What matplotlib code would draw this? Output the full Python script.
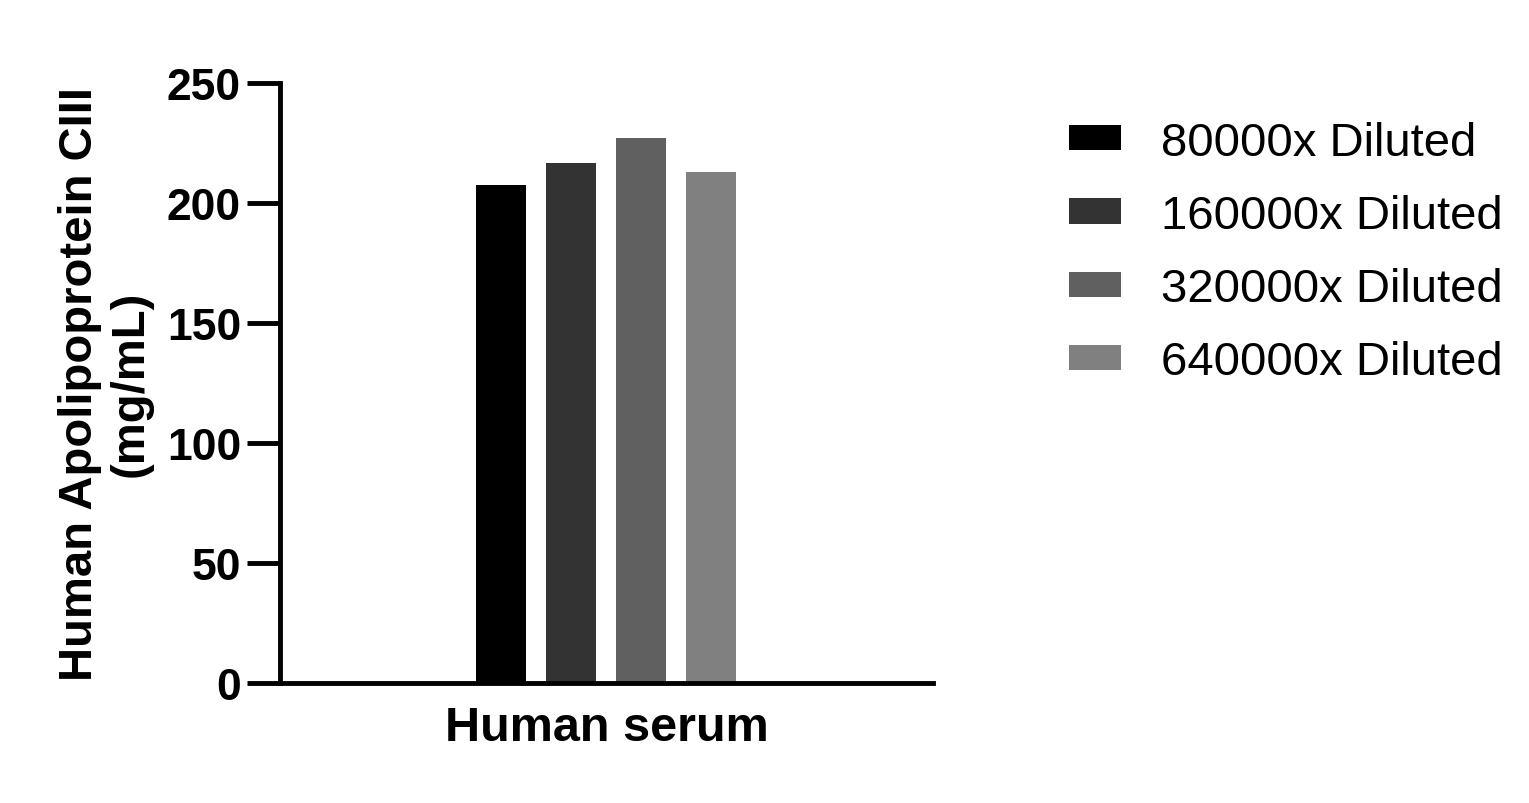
import matplotlib
matplotlib.use("Agg")
import matplotlib.pyplot as plt

plt.rcParams['font.family'] = ['Liberation Sans', 'DejaVu Sans']

series = ["80000x Diluted", "160000x Diluted", "320000x Diluted", "640000x Diluted"]
values = [207.5, 216.5, 227, 213]
colors = ["#000000", "#333333", "#606060", "#808080"]
yticks = [0, 50, 100, 150, 200, 250]

fig = plt.figure(figsize=(15.29, 8.04), dpi=100)
ax = fig.add_axes([280/1529, 1-684/804, (933-280)/1529, 600/804])
for i, (s, v, c) in enumerate(zip(series, values, colors)):
    ax.bar(i, v, width=0.72, color=c, label=s)
ax.set_xlim(-3.16, 6.17)
ax.set_ylim(0, 250)
ax.set_yticks(yticks)
ax.set_yticklabels([str(t) for t in yticks], fontsize=32, fontweight='bold')
ax.set_xticks([])
for sp in ['top', 'right']:
    ax.spines[sp].set_visible(False)
for sp in ['left', 'bottom']:
    ax.spines[sp].set_linewidth(3.5)
ax.tick_params(axis='y', width=3.5, length=24, pad=4)
ax.set_xlabel("Human serum", fontsize=35, fontweight='bold', labelpad=16)
ax.set_ylabel("Human Apolipoprotein CIII\n(mg/mL)", fontsize=34, fontweight='bold', labelpad=10, linespacing=1.2)
fig.legend(loc='upper left', bbox_to_anchor=(1045/1529, 1-98/804), frameon=False, borderpad=0,
           fontsize=34, handlelength=1.1, handleheight=0.45, labelspacing=0.62, handletextpad=0.85)
fig.savefig("out.png", dpi=100)
